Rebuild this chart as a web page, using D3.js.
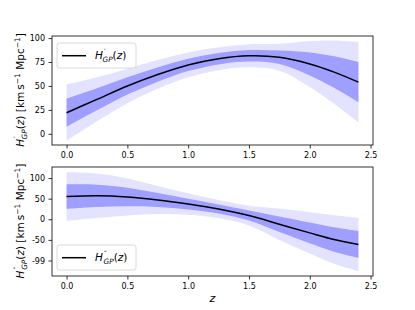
<!DOCTYPE html>
<html>
<head>
<meta charset="utf-8">
<script src="https://cdn.jsdelivr.net/npm/d3@7"></script>
<style>
  body { margin: 0; background: #fff; }
  text { font-family: "DejaVu Sans", sans-serif; }
</style>
</head>
<body>
<script>
var width = 415;
var height = 310;

// ------- data ------------------------------

var zVals = [0, 0.25, 0.5, 0.75, 1.0, 1.25, 1.5, 1.75, 2.0, 2.2, 2.4];

// first derivative H'(z): mean and 1-sigma
var d1Mean = [22, 36, 50, 62, 72, 78.5, 81.5, 80, 73, 64.5, 54];
var d1Sig = [14.7, 11.5, 9, 7.5, 6.5, 6, 6, 7, 12, 16.5, 21];

// second derivative H''(z): mean and 1-sigma
var d2Mean = [55, 57, 54, 47, 37, 25, 9, -12, -33, -49, -61];
var d2Sig = [29.5, 27, 22.5, 17, 13, 11, 12, 19, 25, 29.5, 32.5];

var xTicks = [0, 0.5, 1.0, 1.5, 2.0, 2.5];
var y1Ticks = [0, 25, 50, 75, 100];
var y2Ticks = [100, 50, 0, -50, -100];
var y2TickLabels = ['100', '50', '0', '-50', '-99'];

var lightBlue = '#e3e3ff';
var darkBlue = '#9f9fff';

// ------- SVG --------

var svg = d3.select('body')
    .append('svg')
    .attr('width', width)
    .attr('height', height)

var x = d3.scaleLinear().domain([-0.12, 2.52]).range([52, 373]);

var panels = [
    { mean: d1Mean, sig: d1Sig, top: 36, bottom: 145, domain: [-11.7, 102.2],
      ticks: y1Ticks, labels: y1Ticks.map(String), prime: '\u2032', legendY: 43, labelY: 90 },
    { mean: d2Mean, sig: d2Sig, top: 167, bottom: 276, domain: [-137.6, 126.8],
      ticks: y2Ticks, labels: y2TickLabels, prime: '\u2033', legendY: 245, labelY: 221 }
];

// writes H'_GP(z) style label into a text element
function hLabel(t, prime, size) {
    var small = size * 0.7;
    t.append('tspan').attr('font-style', 'italic').text('H');
    t.append('tspan').attr('font-size', small).attr('dy', -size * 0.45).attr('dx', size * 0.1).text(prime);
    t.append('tspan').attr('font-size', small).attr('font-style', 'italic')
        .attr('dx', -size * 0.3).attr('dy', size * 0.7).text('GP');
    t.append('tspan').attr('dy', -size * 0.25).text('(');
    t.append('tspan').attr('font-style', 'italic').text('z');
    t.append('tspan').text(')');
}

panels.forEach(function(p) {
    var y = d3.scaleLinear().domain(p.domain).range([p.bottom, p.top]);
    var g = svg.append('g');

    var data = zVals.map(function(z, i) {
        return { z: z, m: p.mean[i], s: p.sig[i] };
    });

    var band = function(k) {
        return d3.area()
            .x(function(d) { return x(d.z); })
            .y0(function(d) { return y(d.m - k * d.s); })
            .y1(function(d) { return y(d.m + k * d.s); })
            .curve(d3.curveCatmullRom.alpha(0.5));
    };

    g.append('path').datum(data).attr('d', band(2)).attr('fill', lightBlue);
    g.append('path').datum(data).attr('d', band(1)).attr('fill', darkBlue);

    var line = d3.line()
        .x(function(d) { return x(d.z); })
        .y(function(d) { return y(d.m); })
        .curve(d3.curveCatmullRom.alpha(0.5));

    g.append('path').datum(data).attr('d', line)
        .attr('fill', 'none').attr('stroke', '#000').attr('stroke-width', 1.5);

    // axes
    var xAxis = g.append('g')
        .attr('transform', 'translate(0,' + p.bottom + ')')
        .call(d3.axisBottom(x).tickValues(xTicks).tickFormat(d3.format('.1f'))
            .tickSize(3.5).tickPadding(3.5).tickSizeOuter(0));
    var yAxis = g.append('g')
        .attr('transform', 'translate(' + x.range()[0] + ',0)')
        .call(d3.axisLeft(y).tickValues(p.ticks)
            .tickFormat(function(d, i) { return p.labels[i]; })
            .tickSize(3.5).tickPadding(3.5).tickSizeOuter(0));
    [xAxis, yAxis].forEach(function(a) {
        a.select('.domain').remove();
        a.selectAll('text').attr('font-size', 8).attr('fill', '#000')
            .style('font-family', '"DejaVu Sans", sans-serif');
        a.selectAll('line').attr('stroke', '#000').attr('stroke-width', 0.8);
    });

    g.append('rect')
        .attr('x', x.range()[0]).attr('y', p.top)
        .attr('width', x.range()[1] - x.range()[0])
        .attr('height', p.bottom - p.top)
        .attr('fill', 'none').attr('stroke', '#000').attr('stroke-width', 0.8);

    // legend
    var lg = g.append('g').attr('transform', 'translate(57,' + p.legendY + ')');
    lg.append('rect').attr('width', 79).attr('height', 25).attr('rx', 2.5)
        .attr('fill', '#fff').attr('fill-opacity', 0.8)
        .attr('stroke', '#d0d0d0').attr('stroke-width', 0.8);
    lg.append('line').attr('x1', 5).attr('x2', 29).attr('y1', 12.7).attr('y2', 12.7)
        .attr('stroke', '#000').attr('stroke-width', 1.5);
    hLabel(lg.append('text').attr('x', 38).attr('y', 16).attr('font-size', 10.5), p.prime, 10.5);

    // y label
    var yl = g.append('text')
        .attr('transform', 'translate(24,' + p.labelY + ') rotate(-90)')
        .attr('text-anchor', 'middle')
        .attr('font-size', 10.5);
    hLabel(yl, p.prime, 10.5);
    yl.append('tspan').text(' [km\u2009s');
    yl.append('tspan').attr('font-size', 7.5).attr('dy', -4).text('\u22121');
    yl.append('tspan').attr('dy', 4).text(' Mpc');
    yl.append('tspan').attr('font-size', 7.5).attr('dy', -4).text('\u22121');
    yl.append('tspan').attr('dy', 4).text(']');
});

svg.append('text')
    .attr('x', x(1.2)).attr('y', 302)
    .attr('text-anchor', 'middle')
    .attr('font-size', 11).attr('font-style', 'italic')
    .text('z');
</script>
</body>
</html>
